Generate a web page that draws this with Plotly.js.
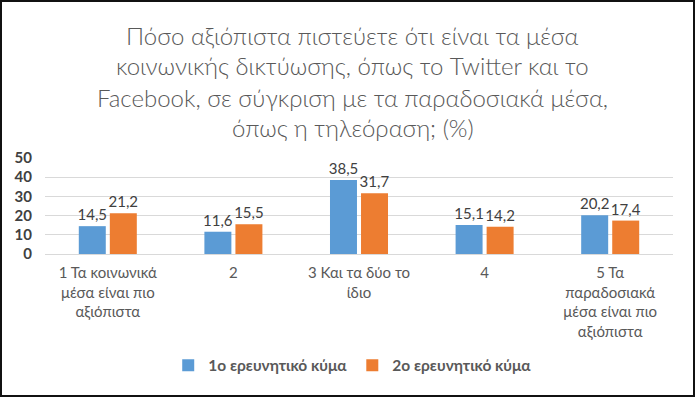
<!DOCTYPE html>
<html>
<head>
<meta charset="utf-8">
<script src="https://cdn.plot.ly/plotly-3.0.1.min.js"></script>
<style>
  html, body { margin: 0; padding: 0; background: #fff; }
  #frame { width: 695px; height: 397px; box-sizing: border-box; border: 2px solid #111; overflow: hidden; }
  #chart { width: 691px; height: 393px; }
</style>
</head>
<body>
<div id="frame"><div id="chart"></div></div>
<script>
const titleLines = [
  'Πόσο αξιόπιστα πιστεύετε ότι είναι τα μέσα',
  'κοινωνικής δικτύωσης, όπως το Twitter και το',
  'Facebook, σε σύγκριση με τα παραδοσιακά μέσα,',
  'όπως η τηλεόραση; (%)'
];
const categories = [
  '1 Τα κοινωνικά<br>μέσα είναι πιο<br>αξιόπιστα',
  '2',
  '3 Και τα δύο το<br>ίδιο',
  '4',
  '5 Τα<br>παραδοσιακά<br>μέσα είναι πιο<br>αξιόπιστα'
];
const seriesNames = ['1ο ερευνητικό κύμα', '2ο ερευνητικό κύμα'];
const wave1 = [14.5, 11.6, 38.5, 15.1, 20.2];
const wave2 = [21.2, 15.5, 31.7, 14.2, 17.4];
const yTicks = [0, 10, 20, 30, 40, 50];

const W = 691, H = 393;
const m = {l: 43, r: 20, t: 156, b: 139};
const plotH = H - m.t - m.b;
const titleY = [31, 62, 94, 125];
const FONT = 'Lato, Open Sans, sans-serif';

const mk = (name, vals, color) => ({
  type: 'bar', name: name, x: categories, y: vals,
  marker: {color: color},
  text: vals, texttemplate: '%{y:.1f}', textposition: 'outside', constraintext: 'none',
  textfont: {family: FONT, size: 15, color: '#404040'},
  cliponaxis: false, hoverinfo: 'skip'
});

const data = [mk(seriesNames[0], wave1, '#5B9BD5'), mk(seriesNames[1], wave2, '#ED7D31')];

const annotations = titleLines.map((t, i) => ({
  text: t, xref: 'paper', yref: 'paper', x: 0.49, y: (H - m.b - titleY[i]) / plotH,
  xanchor: 'center', yanchor: 'middle', showarrow: false,
  font: {family: FONT, size: 24, color: '#595959', weight: 300}
}));

const layout = {
  width: W, height: H, margin: m,
  paper_bgcolor: '#fff', plot_bgcolor: '#fff',
  separators: ',.',
  barmode: 'group', bargap: 0.506, bargroupgap: 0.13,
  showlegend: true,
  legend: {orientation: 'h', x: 0.49, xanchor: 'center', y: -1.163, yanchor: 'middle',
    font: {family: FONT, size: 15.5, color: '#595959', weight: 'bold'},
    itemwidth: 30, traceorder: 'normal'},
  xaxis: {type: 'category', showgrid: false, showline: false, zeroline: false, ticks: '',
    ticklabelstandoff: 8,
    tickfont: {family: FONT, size: 15, color: '#595959'}, tickangle: 0},
  yaxis: {range: [0, 50], tickvals: yTicks, showgrid: true, gridcolor: '#D9D9D9', gridwidth: 1,
    zeroline: true, zerolinecolor: '#D9D9D9', zerolinewidth: 1, showline: false, ticks: '',
    ticklabelstandoff: 12,
    tickfont: {family: FONT, size: 15, color: '#404040', weight: 'bold'}},
  annotations: annotations
};

Plotly.newPlot('chart', data, layout, {staticPlot: true, displayModeBar: false});
</script>
</body>
</html>
